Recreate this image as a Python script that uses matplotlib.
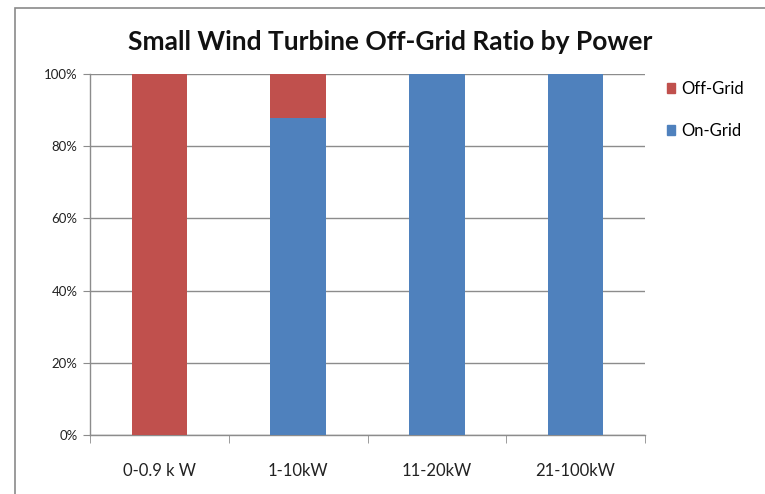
import matplotlib
matplotlib.use("Agg")
import matplotlib.pyplot as plt
from matplotlib.patches import Rectangle, Patch
import numpy as np

categories = ["0-0.9 k W", "1-10kW", "11-20kW", "21-100kW"]
on_grid = [0.0, 87.8, 100.0, 100.0]
off_grid = [100.0, 12.2, 0.0, 0.0]
yticks = [0, 20, 40, 60, 80, 100]
ytick_labels = ["0%", "20%", "40%", "60%", "80%", "100%"]

RED = "#C0504D"
BLUE = "#4F81BD"
GRID = "#8C8C8C"

plt.rcParams['font.family'] = ['Lato', 'DejaVu Sans']

fig = plt.figure(figsize=(7.65, 4.94), dpi=100)
fig.patches.append(Rectangle((15/765, -0.1), 1.2, 1 - 8/494 + 0.1, transform=fig.transFigure,
                             fill=False, edgecolor="#8a8a8a", linewidth=1.2))

ax = fig.add_axes([90/765, 1 - 435/494, (645 - 90)/765, (435 - 74)/494])
x = np.arange(len(categories))
ax.bar(x, on_grid, width=0.40, color=BLUE, zorder=3, label="On-Grid")
ax.bar(x, off_grid, bottom=on_grid, width=0.40, color=RED, zorder=3, label="Off-Grid")

ax.set_xlim(-0.5, len(categories) - 0.5)
ax.set_ylim(0, 100)
ax.set_yticks(yticks)
ax.set_yticklabels(ytick_labels, fontsize=9.5, color="#222222")
ax.yaxis.grid(True, color=GRID, linewidth=1.0, zorder=0)
ax.tick_params(axis='y', length=5, color=GRID, pad=4)

ax.set_xticks(x)
ax.set_xticklabels(categories, fontsize=12, color="#222222")
ax.tick_params(axis='x', which='major', length=0, pad=20)
ax.set_xticks(np.arange(-0.5, len(categories), 1.0), minor=True)
ax.tick_params(axis='x', which='minor', length=6, color=GRID)

for s in ["top", "right"]:
    ax.spines[s].set_visible(False)
for s in ["left", "bottom"]:
    ax.spines[s].set_color(GRID)
    ax.spines[s].set_linewidth(1.0)

fig.text(390/765, 1 - 42/494, "Small Wind Turbine Off-Grid Ratio by Power",
         ha="center", va="center", fontsize=19, fontweight="bold", color="#111111")

handles = [Patch(color=RED, label="Off-Grid"), Patch(color=BLUE, label="On-Grid")]
fig.legend(handles=handles, loc="upper left", bbox_to_anchor=(652/765, 1 - 66/494),
           frameon=False, fontsize=12, handlelength=0.5, handleheight=0.5,
           handletextpad=0.35, labelspacing=1.55)

fig.savefig("out.png", dpi=100)
